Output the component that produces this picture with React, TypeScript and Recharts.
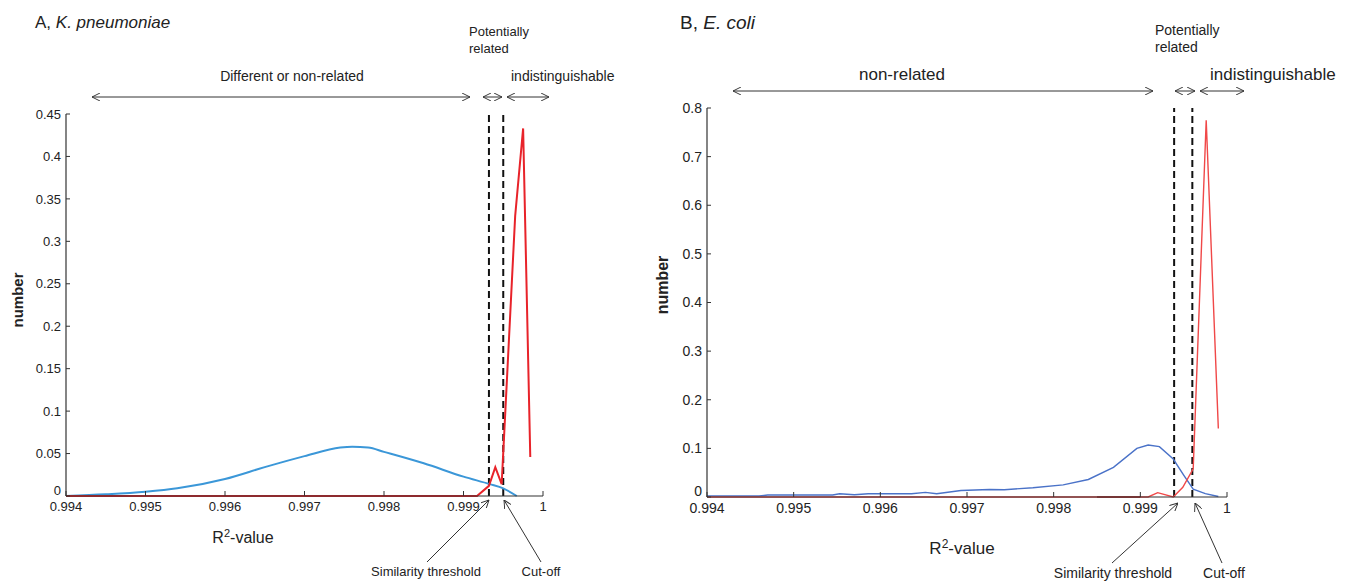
import { LineChart, Line, XAxis, YAxis, ReferenceLine } from 'recharts'

const FONT = '"Liberation Sans", Arial, sans-serif'
const TM = 5

// panel A, K. pneumoniae
const kpBlueX = [0.994, 0.9945, 0.995, 0.9954, 0.996, 0.9965, 0.997, 0.99745, 0.9976, 0.9978, 0.998, 0.9985, 0.999, 0.99933, 0.9995, 0.99967]
const kpBlueY = [0, 0.002, 0.005, 0.009, 0.02, 0.034, 0.047, 0.057, 0.058, 0.0572, 0.052, 0.0385, 0.0228, 0.014, 0.009, 0]
const kpRedX = [0.994, 0.99917, 0.99932, 0.9994, 0.99948, 0.99965, 0.99975, 0.99984]
const kpRedY = [0, 0, 0.012, 0.034, 0.014, 0.33, 0.433, 0.046]
const kpThreshold = 0.99932
const kpCutoff = 0.9995
const kpYTicks = [0, 0.05, 0.1, 0.15, 0.2, 0.25, 0.3, 0.35, 0.4, 0.45]

// panel B, E. coli
const ecBlueX = [0.994, 0.9946, 0.9947, 0.99545, 0.99553, 0.9957, 0.99586, 0.99636, 0.99652, 0.99665, 0.99693, 0.99726, 0.99743, 0.99776, 0.99811, 0.9984, 0.99869, 0.99896, 0.99909, 0.99922, 0.99938, 0.9995, 0.99961, 0.99975, 0.9999]
const ecBlueY = [0.002, 0.002, 0.004, 0.004, 0.0068, 0.0047, 0.0068, 0.0068, 0.0095, 0.0068, 0.0135, 0.0155, 0.015, 0.019, 0.025, 0.036, 0.061, 0.1, 0.107, 0.1035, 0.078, 0.045, 0.016, 0.007, 0.001]
const ecRedX = [0.994, 0.99909, 0.9992, 0.99938, 0.99949, 0.99961, 0.99976, 0.9999]
const ecRedY = [0, 0, 0.009, 0, 0.02, 0.058, 0.775, 0.141]
const ecThreshold = 0.99939
const ecCutoff = 0.9996
const ecYTicks = [0, 0.1, 0.2, 0.3, 0.4, 0.5, 0.6, 0.7, 0.8]

const xTicks = [0.994, 0.995, 0.996, 0.997, 0.998, 0.999, 1]

const zip = (xs: number[], ys: number[]) => xs.map((x, i) => ({ x, y: ys[i] }))

const XTick = (props: any) => {
  const { x, y, payload, fs } = props
  return (
    <g>
      <line x1={x} x2={x} y1={y - TM} y2={y - TM - 5} stroke="#333" />
      <text x={x} y={y + 1} dy="0.71em" textAnchor="middle" fontSize={fs} fill="#222" fontFamily={FONT}>
        {String(payload.value)}
      </text>
    </g>
  )
}

const YTick = (props: any) => {
  const { x, y, payload, fs } = props
  // the zero label sits a little higher so it clears the first x label
  const lift = payload.value === 0 ? 6 : 0
  return (
    <g>
      <line x1={x + TM} x2={x + TM + 4} y1={y} y2={y} stroke="#333" />
      <text x={x} y={y - lift} dy="0.355em" textAnchor="end" fontSize={fs} fill="#222" fontFamily={FONT}>
        {String(payload.value)}
      </text>
    </g>
  )
}

const Arrow = ({ x1, y1, x2, y2, both }: any) => (
  <line x1={x1} y1={y1} x2={x2} y2={y2} stroke="#333" strokeWidth={1}
    markerEnd="url(#ah)" markerStart={both ? 'url(#ah)' : undefined} />
)

export default function App() {
  return (
    <div style={{ position: 'absolute', left: 0, top: 0, width: 1349, height: 581, background: '#fff' }}>
      <div style={{ position: 'absolute', left: 0, top: 0 }}>
        <LineChart width={660} height={581} margin={{ top: 114, right: 117, bottom: 55, left: 26 }}>
          <XAxis type="number" dataKey="x" domain={[0.994, 1]} ticks={xTicks} interval={0}
            height={30} tickSize={0} tickMargin={TM} tickLine={false}
            axisLine={{ stroke: '#333', strokeWidth: 1.2 }}
            tick={(p: any) => <XTick {...p} fs={13} />} />
          <YAxis type="number" domain={[0, 0.45]} ticks={kpYTicks} interval={0}
            width={40} tickSize={0} tickMargin={TM} tickLine={false}
            axisLine={{ stroke: '#333', strokeWidth: 1.2 }}
            tick={(p: any) => <YTick {...p} fs={13} />} />
          <ReferenceLine x={kpThreshold} stroke="#111" strokeWidth={2} strokeDasharray="7 4" />
          <ReferenceLine x={kpCutoff} stroke="#111" strokeWidth={2} strokeDasharray="7 4" />
          <Line data={zip(kpBlueX, kpBlueY)} dataKey="y" type="monotone" stroke="#3b97d8" strokeWidth={2} dot={false} isAnimationActive={false} />
          <Line data={zip(kpRedX, kpRedY)} dataKey="y" type="linear" stroke="#e8232a" strokeWidth={2} dot={false} isAnimationActive={false} />
        </LineChart>
      </div>
      <div style={{ position: 'absolute', left: 660, top: 0 }}>
        <LineChart width={689} height={581} margin={{ top: 108, right: 122, bottom: 54, left: 7 }}>
          <XAxis type="number" dataKey="x" domain={[0.994, 1]} ticks={xTicks} interval={0}
            height={30} tickSize={0} tickMargin={TM} tickLine={false}
            axisLine={{ stroke: '#333', strokeWidth: 1.2 }}
            tick={(p: any) => <XTick {...p} fs={14} />} />
          <YAxis type="number" domain={[0, 0.8]} ticks={ecYTicks} interval={0}
            width={40} tickSize={0} tickMargin={TM} tickLine={false}
            axisLine={{ stroke: '#333', strokeWidth: 1.2 }}
            tick={(p: any) => <YTick {...p} fs={14} />} />
          <ReferenceLine x={ecThreshold} stroke="#111" strokeWidth={2} strokeDasharray="7 4" />
          <ReferenceLine x={ecCutoff} stroke="#111" strokeWidth={2} strokeDasharray="7 4" />
          <ReferenceLine segment={[{ x: 0.9985, y: 0 }, { x: 0.999, y: 0 }]} stroke="#111" strokeWidth={2} />
          <Line data={zip(ecBlueX, ecBlueY)} dataKey="y" type="linear" stroke="#4a72c8" strokeWidth={1.4} dot={false} isAnimationActive={false} />
          <Line data={zip(ecRedX, ecRedY)} dataKey="y" type="linear" stroke="#f04848" strokeWidth={1.4} dot={false} isAnimationActive={false} />
        </LineChart>
      </div>
      <svg width={1349} height={581} style={{ position: 'absolute', left: 0, top: 0, pointerEvents: 'none' }}
        fontFamily={FONT} fill="#222">
        <defs>
          <marker id="ah" viewBox="0 0 10 10" refX="10" refY="5" markerWidth="8" markerHeight="8"
            orient="auto-start-reverse" markerUnits="userSpaceOnUse">
            <path d="M0,0 L10,5 L0,10" fill="none" stroke="#333" strokeWidth={1.2} />
          </marker>
        </defs>

        {/* panel A */}
        <text x={35} y={28} fontSize={17}>A, <tspan fontStyle="italic">K. pneumoniae</tspan></text>
        <text x={469} y={36} fontSize={13}>Potentially</text>
        <text x={469} y={53} fontSize={13}>related</text>
        <text x={292} y={81} fontSize={14} textAnchor="middle">Different or non-related</text>
        <text x={511} y={81} fontSize={14}>indistinguishable</text>
        <Arrow x1={92} y1={97} x2={470} y2={97} both />
        <Arrow x1={483} y1={97} x2={502} y2={97} both />
        <Arrow x1={507} y1={97} x2={549} y2={97} both />
        <text transform="translate(23,300) rotate(-90)" fontSize={15} fontWeight="bold" textAnchor="middle">number</text>
        <text x={243} y={543} fontSize={16} textAnchor="middle">R<tspan fontSize={11} dy={-6}>2</tspan><tspan dy={6}>-value</tspan></text>
        <text x={426} y={576} fontSize={13} textAnchor="middle">Similarity threshold</text>
        <text x={541} y={576} fontSize={13} textAnchor="middle">Cut-off</text>
        <Arrow x1={427} y1={562} x2={489} y2={500} />
        <Arrow x1={541} y1={562} x2={504} y2={500} />

        {/* panel B */}
        <text x={680} y={29} fontSize={19}>B, <tspan fontStyle="italic">E. coli</tspan></text>
        <text x={1155} y={35} fontSize={14}>Potentially</text>
        <text x={1155} y={52} fontSize={14}>related</text>
        <text x={902} y={80} fontSize={17} textAnchor="middle">non-related</text>
        <text x={1210} y={80} fontSize={17}>indistinguishable</text>
        <Arrow x1={733} y1={91} x2={1153} y2={91} both />
        <Arrow x1={1175} y1={91} x2={1195} y2={91} both />
        <Arrow x1={1200} y1={91} x2={1244} y2={91} both />
        <text transform="translate(668,285) rotate(-90)" fontSize={16} fontWeight="bold" textAnchor="middle">number</text>
        <text x={962} y={554} fontSize={17} textAnchor="middle">R<tspan fontSize={12} dy={-6}>2</tspan><tspan dy={6}>-value</tspan></text>
        <text x={1113} y={578} fontSize={14} textAnchor="middle">Similarity threshold</text>
        <text x={1224} y={578} fontSize={14} textAnchor="middle">Cut-off</text>
        <Arrow x1={1112} y1={563} x2={1178} y2={503} />
        <Arrow x1={1222} y1={563} x2={1195} y2={503} />
      </svg>
    </div>
  )
}
